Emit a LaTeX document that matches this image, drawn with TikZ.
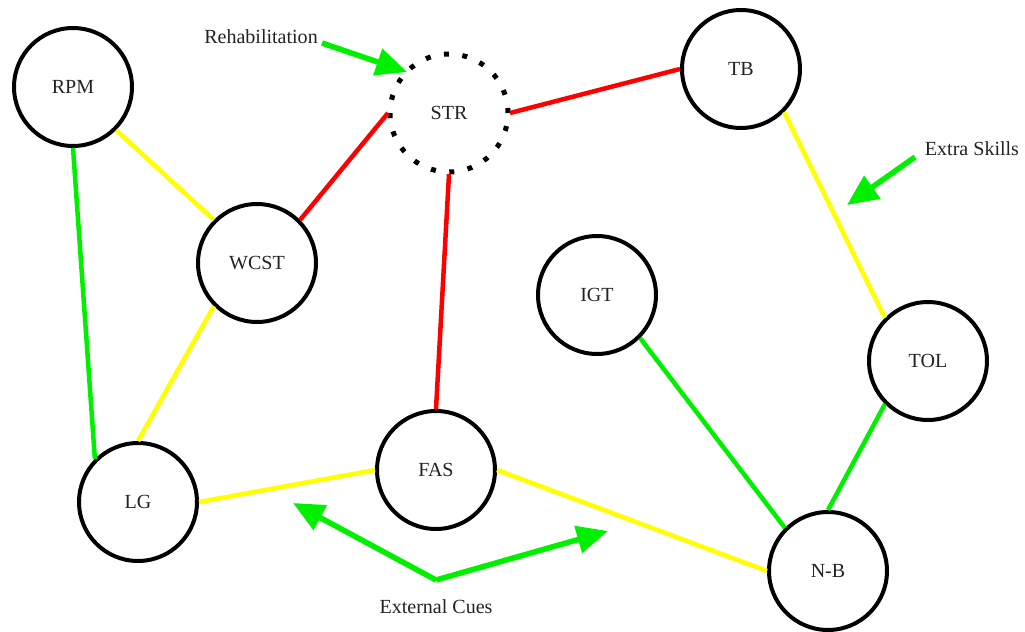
\documentclass[tikz,border=0pt]{standalone}
\usepackage{fontspec}
\setmainfont{Liberation Serif}
\usetikzlibrary{arrows.meta}
\definecolor{linkred}{HTML}{FF0000}
\definecolor{linkyellow}{HTML}{FFFF00}
\definecolor{linkgreen}{HTML}{00F000}
\definecolor{inktext}{HTML}{222222}

\begin{document}
\begin{tikzpicture}[x=0.02cm,y=-0.02cm,>={Triangle[length=0.62cm,width=0.54cm]},
    test/.style={circle,draw,line width=0.08cm,minimum size=2.36cm,inner sep=0pt,
                 text=inktext,font=\fontsize{11.4}{13}\selectfont},
    lost/.style={test,draw=none},
    weak/.style={line width=0.09cm,draw=linkred},
    fair/.style={line width=0.09cm,draw=linkyellow},
    good/.style={line width=0.09cm,draw=linkgreen},
    cue/.style={line width=0.11cm,draw=linkgreen,fill=linkgreen,->},
    note/.style={text=inktext,font=\fontsize{11.4}{13}\selectfont}]
    \useasboundingbox (0,0) rectangle (1025,632);

    % tests
    \node[test] (rpm) at (73,87) {RPM};
    \node[lost] (str) at (449,113) {STR};
    \node[test] (tb) at (741,69) {TB};
    \node[test] (wcst) at (257,263) {WCST};
    \node[test] (igt) at (597,295) {IGT};
    \node[test] (tol) at (928,361) {TOL};
    \node[test] (lg) at (138,502) {LG};
    \node[test] (fas) at (436,470) {FAS};
    \node[test] (nb) at (828,571) {N-B};
    \draw[line width=0.1cm,dash pattern=on 0.1cm off 0.271cm]
        (str.center) circle[radius=1.18cm];

    % links
    \draw[fair] (rpm.south east)--(wcst.north west);
    \draw[good] (rpm.south)--(lg.north west);
    \draw[weak] (wcst.north east)--(str.west);
    \draw[fair] (wcst.south west)--(lg.north);
    \draw[weak] (str.east)--(tb.west);
    \draw[weak] (str.south)--(fas.north);
    \draw[fair] (tb.south east)--(tol.north west);
    \draw[good] (tol.south west)--(nb.north);
    \draw[good] (igt.south east)--(nb.north west);
    \draw[fair] (lg.east)--(fas.west);
    \draw[fair] (fas.east)--(nb.west);

    % remarks
    \node[note] (rehab) at (261,37) {Rehabilitation};
    \node[note] (extra) at (972,149) {Extra Skills};
    \node[note] (ext) at (436,607) {External Cues};
    \coordinate (rehabtail) at (322,43);
    \coordinate (rehabtip) at (407,72);
    \coordinate (extratail) at (915,157);
    \coordinate (extratip) at (847,205);
    \coordinate (cuefork) at (436,580);
    \coordinate (cueleft) at (293,503);
    \coordinate (cueright) at (608,531);
    \draw[cue] (rehabtail)--(rehabtip);
    \draw[cue] (extratail)--(extratip);
    \draw[cue] (cuefork)--(cueleft);
    \draw[cue] (cuefork)--(cueright);
\end{tikzpicture}
\end{document}
